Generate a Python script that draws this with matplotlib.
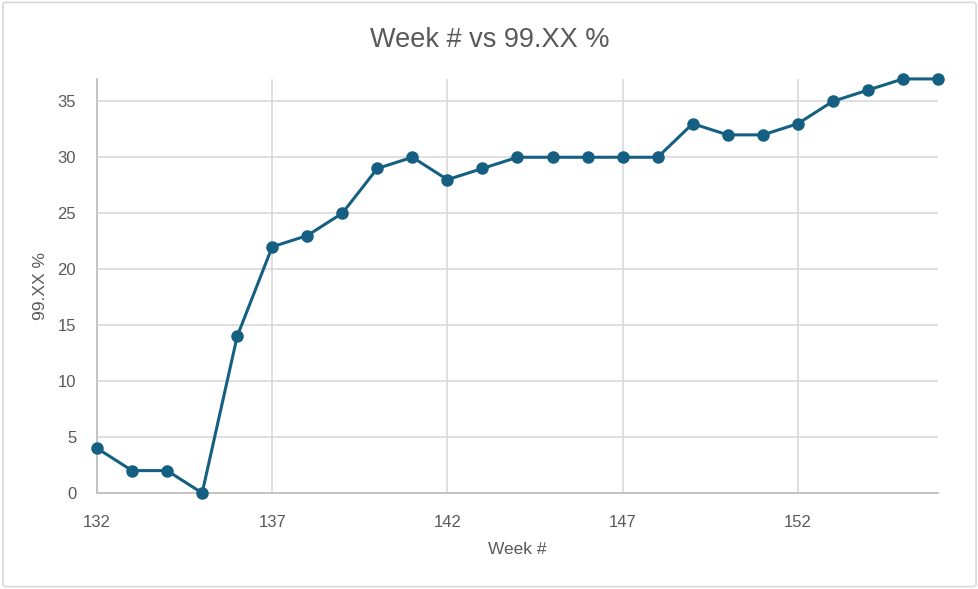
import matplotlib
matplotlib.use('Agg')
import matplotlib.pyplot as plt
from matplotlib.patches import FancyBboxPatch

weeks = list(range(132, 157))
pct = [4, 2, 2, 0, 14, 22, 23, 25, 29, 30, 28, 29, 30, 30, 30, 30, 30,
       33, 32, 32, 33, 35, 36, 37, 37]
x_ticks = [132, 137, 142, 147, 152]
y_ticks = [0, 5, 10, 15, 20, 25, 30, 35]

plt.rcParams['font.family'] = ['Liberation Sans', 'DejaVu Sans']
TXT = '#595959'
LINE = '#156082'

fig = plt.figure(figsize=(9.79, 5.89), dpi=100)
fig.patches.append(FancyBboxPatch((0.003, 0.004), 0.994, 0.992,
                                  boxstyle='round,pad=0,rounding_size=0.004',
                                  transform=fig.transFigure, fill=False,
                                  edgecolor='#d9d9d9', lw=1.2))
ax = fig.add_axes([0.0991, 0.163, 0.859, 0.703])

ax.plot(weeks, pct, color=LINE, lw=2.2, marker='o', ms=8, clip_on=False, zorder=3)

ax.set_xlim(132, 156)
ax.set_ylim(0, 37)
ax.set_xticks(x_ticks)
ax.set_yticks(y_ticks)
ax.grid(True, color='#d9d9d9', lw=1.2)
ax.set_axisbelow(True)
for s in ['top', 'right']:
    ax.spines[s].set_visible(False)
for s in ['left', 'bottom']:
    ax.spines[s].set_color('#bfbfbf')
    ax.spines[s].set_linewidth(1.3)
ax.tick_params(length=0, labelsize=12, colors=TXT)
ax.tick_params(axis='x', pad=16)
ax.tick_params(axis='y', pad=15)

ax.set_xlabel('Week #', fontsize=12.5, color=TXT)
ax.set_ylabel('99.XX %', fontsize=12.5, color=TXT)
ax.xaxis.set_label_coords(0.5, -0.118)
ax.yaxis.set_label_coords(-0.058, 0.5)
fig.suptitle('Week # vs 99.XX %', fontsize=19.5, color=TXT, y=0.955)

plt.savefig('out.png', dpi=100)
plt.close()
